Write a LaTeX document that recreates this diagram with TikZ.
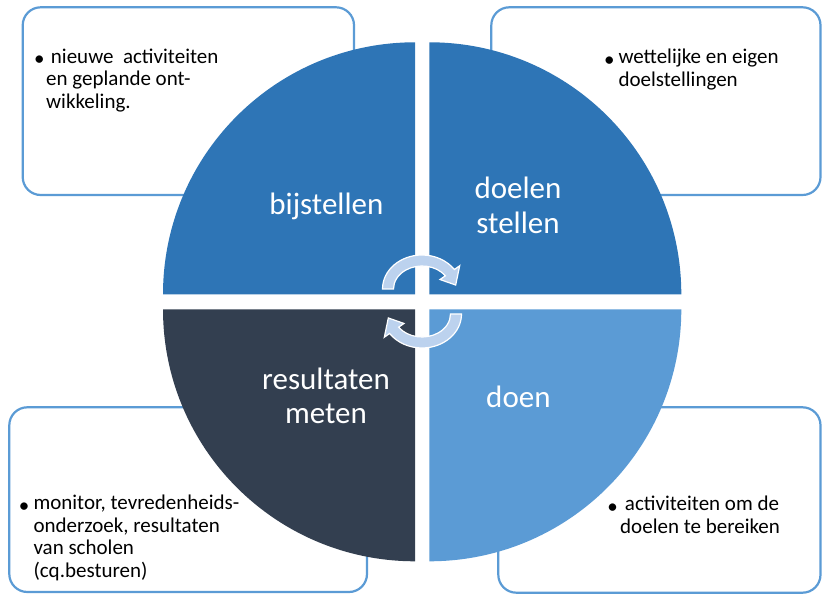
\documentclass[tikz,border=0pt]{standalone}
\usepackage{fontspec}
\setmainfont{Carlito}
\usetikzlibrary{calc}
\definecolor{qdark}{HTML}{2E75B6}
\definecolor{qslate}{HTML}{333F50}
\definecolor{qlight}{HTML}{5B9BD5}
\definecolor{boxline}{HTML}{5B9BD5}
\definecolor{arrowfill}{HTML}{BCD2EE}
\begin{document}
\begin{tikzpicture}[x=1pt,y=1pt,
  infobox/.style={draw=boxline, line width=2.2pt, rounded corners=18pt, fill=white},
  boxtext/.style={anchor=base west, inner sep=0pt, font=\fontsize{21}{22.5}\selectfont, text=black},
  bulletmark/.style={anchor=base, inner sep=0pt, font=\fontsize{21}{22.5}\selectfont, text=black},
  biglabel/.style={anchor=base, inner sep=0pt, text=white, font=\fontsize{31}{34.5}\selectfont},
  cyclearrow/.style={fill=arrowfill, draw=white, line width=1.2pt, line join=miter}]
\useasboundingbox (0,0) rectangle (822,594);

% corner boxes
\draw[infobox] (22.7,399) rectangle (354,586.7);
\draw[infobox] (491.3,399) rectangle (820.5,586.7);
\draw[infobox] (9.3,2) rectangle (367,186.7);
\draw[infobox] (498.3,1.3) rectangle (820.5,186.7);

% quadrants
\fill[qdark] (429.3,299.7) -- ++(252,0) arc[start angle=0,end angle=90,radius=252pt] -- cycle;
\fill[qdark] (415,299.7) -- ++(0,252) arc[start angle=90,end angle=180,radius=252pt] -- cycle;
\fill[qslate] (415,284.7) -- ++(-252,0) arc[start angle=180,end angle=270,radius=252pt] -- cycle;
\fill[qlight] (429.3,284.7) -- ++(0,-252) arc[start angle=270,end angle=360,radius=252pt] -- cycle;

% box texts
\node[bulletmark] (b1) at (39.3,528.2) {\textbullet};
\node[boxtext] (t1) at (46,530.7) {\begin{tabular}[t]{@{}l@{}}\ nieuwe\ \ activiteiten\\en geplande ont-\\wikkeling.\end{tabular}};
\node[bulletmark] (b2) at (609.3,527.5) {\textbullet};
\node[boxtext] (t2) at (618.3,530) {\begin{tabular}[t]{@{}l@{}}wettelijke en eigen\\doelstellingen\end{tabular}};
\node[bulletmark] (b3) at (24,81.5) {\textbullet};
\node[boxtext] (t3) at (33.3,84) {\begin{tabular}[t]{@{}l@{}}monitor, tevredenheids-\\onderzoek, resultaten\\van scholen\\(cq.besturen)\end{tabular}};
\node[bulletmark] (b4) at (612.7,80.5) {\textbullet};
\node[boxtext] (t4) at (620,83) {\begin{tabular}[t]{@{}l@{}}\ activiteiten om de\\doelen te bereiken\end{tabular}};

% quadrant labels
\node[biglabel] (l1) at (326.4,379.2) {bijstellen};
\node[biglabel] (l2) at (518,395) {\begin{tabular}[t]{@{}c@{}}doelen\\stellen\end{tabular}};
\node[biglabel] (l3) at (326,204.5) {\begin{tabular}[t]{@{}c@{}}resultaten\\meten\end{tabular}};
\node[biglabel] (l4) at (518.4,186.8) {doen};

% circular arrows
\coordinate (ct) at (422,305);
\coordinate (cb) at (422,280);
\draw[cyclearrow] ($(ct)+(180:39.5pt and 34pt)$) arc[start angle=180, end angle=35, x radius=39.5pt, y radius=34pt]
  -- ($(ct)+(35:46pt and 40.5pt)$) -- ($(ct)+(8:34pt and 28.5pt)$) -- ($(ct)+(35:22pt and 16.5pt)$)
  -- ($(ct)+(35:28.5pt and 23pt)$) arc[start angle=35, end angle=180, x radius=28.5pt, y radius=23pt] -- cycle;
\draw[cyclearrow] ($(cb)+(0:39.5pt and 34pt)$) arc[start angle=0, end angle=-145, x radius=39.5pt, y radius=34pt]
  -- ($(cb)+(-145:46pt and 40.5pt)$) -- ($(cb)+(-172:34pt and 28.5pt)$) -- ($(cb)+(-145:22pt and 16.5pt)$)
  -- ($(cb)+(-145:28.5pt and 23pt)$) arc[start angle=-145, end angle=0, x radius=28.5pt, y radius=23pt] -- cycle;
\end{tikzpicture}
\end{document}
